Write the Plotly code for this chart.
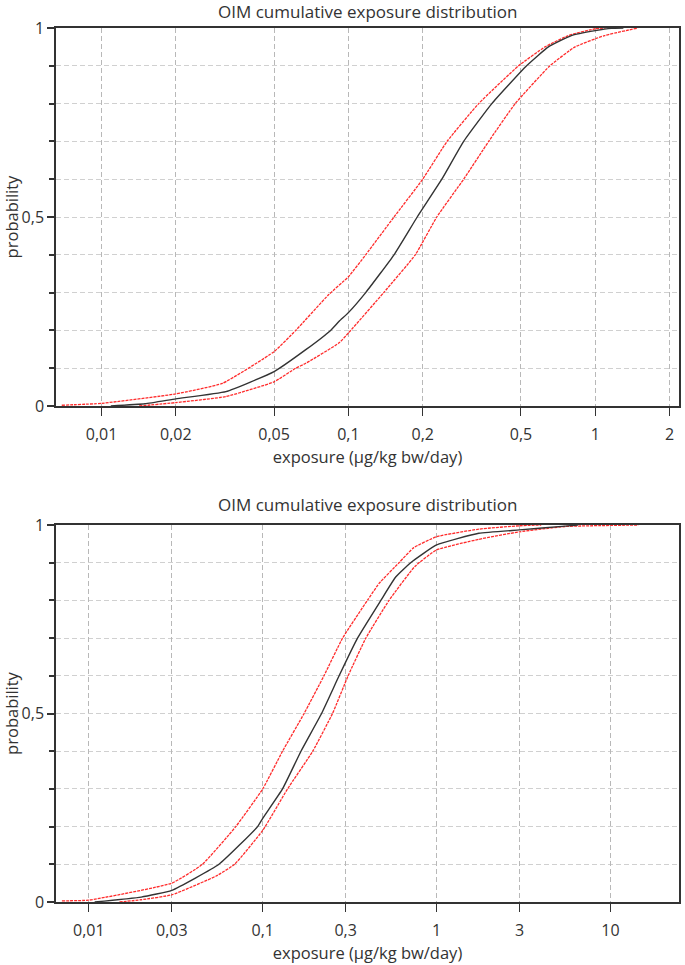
import plotly.graph_objects as go

# ---------------- data ----------------
# Top panel
top_med_x = [0.0109, 0.015, 0.02, 0.0319, 0.05, 0.0672, 0.0847, 0.0917, 0.1, 0.1175, 0.153, 0.19,
             0.239, 0.293, 0.381, 0.527, 0.646, 0.8, 1.0, 1.16, 1.3]
top_med_p = [0.0, 0.006, 0.019, 0.038, 0.091, 0.149, 0.2, 0.224, 0.247, 0.3, 0.4, 0.5,
             0.6, 0.7, 0.8, 0.9, 0.95, 0.98, 0.993, 0.999, 1.0]

top_up_x = [0.0069, 0.01, 0.02, 0.0309, 0.05, 0.0612, 0.0833, 0.1, 0.1175, 0.153, 0.2,
            0.251, 0.337, 0.489, 0.626, 0.778, 1.0, 1.1]
top_up_p = [0.002, 0.007, 0.032, 0.06, 0.144, 0.2, 0.295, 0.342, 0.4, 0.5, 0.6,
            0.7, 0.8, 0.9, 0.95, 0.98, 0.998, 1.0]

top_lo_x = [0.0142, 0.02, 0.0319, 0.05, 0.0612, 0.0672, 0.0917, 0.1006, 0.139, 0.1866, 0.228,
            0.293, 0.37, 0.474, 0.655, 0.828, 1.09, 1.49]
top_lo_p = [0.0, 0.009, 0.025, 0.064, 0.1, 0.113, 0.167, 0.195, 0.3, 0.4, 0.5,
            0.6, 0.7, 0.8, 0.9, 0.95, 0.98, 1.0]

# Bottom panel
bot_med_x = [0.0108, 0.02, 0.03, 0.056, 0.0935, 0.1, 0.13, 0.166, 0.218, 0.275, 0.351, 0.478,
             0.582, 0.71, 1.0, 1.75, 3.0, 5.5, 6.5]
bot_med_p = [0.0, 0.013, 0.031, 0.1, 0.2, 0.222, 0.3, 0.4, 0.5, 0.6, 0.7, 0.8,
             0.862, 0.9, 0.947, 0.978, 0.987, 0.997, 1.0]

bot_up_x = [0.007, 0.01, 0.03, 0.045, 0.07, 0.1, 0.13, 0.173, 0.225, 0.288, 0.4, 0.467,
            0.608, 0.74, 1.0, 1.75, 3.0, 4.0]
bot_up_p = [0.003, 0.005, 0.05, 0.1, 0.2, 0.3, 0.4, 0.5, 0.6, 0.7, 0.8, 0.845,
            0.9, 0.94, 0.969, 0.989, 0.998, 1.0]

bot_lo_x = [0.015, 0.02, 0.03, 0.054, 0.0689, 0.1, 0.139, 0.194, 0.252, 0.31, 0.392,
            0.533, 0.75, 1.0, 1.75, 3.0, 5.5, 14.5]
bot_lo_p = [0.0, 0.006, 0.019, 0.069, 0.1, 0.19, 0.3, 0.4, 0.5, 0.6, 0.7,
            0.8, 0.89, 0.934, 0.962, 0.982, 0.996, 1.0]

top_xticks = [0.01, 0.02, 0.05, 0.1, 0.2, 0.5, 1, 2]
top_xtext = ["0,01", "0,02", "0,05", "0,1", "0,2", "0,5", "1", "2"]
bot_xticks = [0.01, 0.03, 0.1, 0.3, 1, 3, 10]
bot_xtext = ["0,01", "0,03", "0,1", "0,3", "1", "3", "10"]
yticks = [0, 0.5, 1]
ytext = ["0", "0,5", "1"]

title_text = "OIM cumulative exposure distribution"
xtitle = "exposure (µg/kg bw/day)"
ytitle = "probability"

# ---------------- figure ----------------
FONT = "Open Sans"
RED = "rgba(255,20,20,0.9)"
BLACK = "#333333"
TICK_SIZE = 16
TITLE_SIZE = 16.5

fig = go.Figure()

def add_curves(xs, ps, xa, ya, color, dash, width):
    fig.add_trace(go.Scatter(x=xs, y=ps, mode="lines", xaxis=xa, yaxis=ya,
                             line=dict(color=color, width=width, dash=dash, shape="spline",
                                       smoothing=0.4),
                             showlegend=False, hoverinfo="skip"))

add_curves(top_up_x, top_up_p, "x", "y", RED, "3px,1px", 1.3)
add_curves(top_lo_x, top_lo_p, "x", "y", RED, "3px,1px", 1.3)
add_curves(top_med_x, top_med_p, "x", "y", BLACK, "solid", 1.4)
add_curves(bot_up_x, bot_up_p, "x2", "y2", RED, "3px,1px", 1.3)
add_curves(bot_lo_x, bot_lo_p, "x2", "y2", RED, "3px,1px", 1.3)
add_curves(bot_med_x, bot_med_p, "x2", "y2", BLACK, "solid", 1.4)

W, H = 685, 965
L, R, T, B = 56, 4, 28, 63
plot_h = H - T - B
top_lo_px, top_hi_px = 406, 28
bot_lo_px, bot_hi_px = 902, 525
def frac(px):
    return (H - B - px) / plot_h

xcommon = dict(type="log", showline=True, linewidth=1.5, linecolor=BLACK, mirror=True,
               ticks="outside", ticklen=8, tickwidth=1, tickcolor=BLACK,
               showgrid=True, gridcolor="#b8b8b8", griddash="5px,3px", gridwidth=1,
               tickfont=dict(family=FONT, size=TICK_SIZE, color=BLACK), ticklabelstandoff=5,
               zeroline=False, fixedrange=True)
ycommon = dict(range=[0, 1], showline=True, linewidth=1.5, linecolor=BLACK, mirror=True,
               ticks="outside", ticklen=7, tickwidth=1.5, tickcolor=BLACK,
               tickvals=yticks, ticktext=ytext,
               showgrid=True, gridcolor="#d0d0d0", griddash="5px,3px", gridwidth=1,
               minor=dict(dtick=0.1, tick0=0, ticks="outside", ticklen=5, tickwidth=1.5,
                          tickcolor=BLACK, showgrid=True, gridcolor="#d0d0d0",
                          griddash="5px,3px", gridwidth=1),
               tickfont=dict(family=FONT, size=TICK_SIZE, color=BLACK),
               zeroline=False, fixedrange=True)

axis_title_font = dict(family=FONT, size=TITLE_SIZE, color=BLACK)
fig.update_layout(
    width=W, height=H,
    margin=dict(l=L, r=R, t=T, b=B),
    plot_bgcolor="white", paper_bgcolor="white",
    xaxis=dict(xcommon, domain=[0, 1], anchor="y", range=[-2.1845, 0.3392],
               tickvals=top_xticks, ticktext=top_xtext,
               title=dict(text=xtitle, font=axis_title_font, standoff=6)),
    yaxis=dict(ycommon, domain=[frac(top_lo_px), frac(top_hi_px)], anchor="x",
               title=dict(text=ytitle, font=axis_title_font, standoff=4)),
    xaxis2=dict(xcommon, domain=[0, 1], anchor="y2", range=[-2.189, 1.3945],
                tickvals=bot_xticks, ticktext=bot_xtext,
                title=dict(text=xtitle, font=axis_title_font, standoff=6)),
    yaxis2=dict(ycommon, domain=[frac(bot_lo_px), frac(bot_hi_px)], anchor="x2",
                title=dict(text=ytitle, font=axis_title_font, standoff=4)),
)

for ypx in (11, 504):
    fig.add_annotation(text=title_text, xref="paper", yref="paper",
                       x=0.5, y=frac(ypx), xanchor="center", yanchor="middle",
                       showarrow=False, font=dict(family=FONT, size=17, color=BLACK))

fig.write_html("out.html", config={"displayModeBar": False},
               post_script="document.body.style.margin='0';")
